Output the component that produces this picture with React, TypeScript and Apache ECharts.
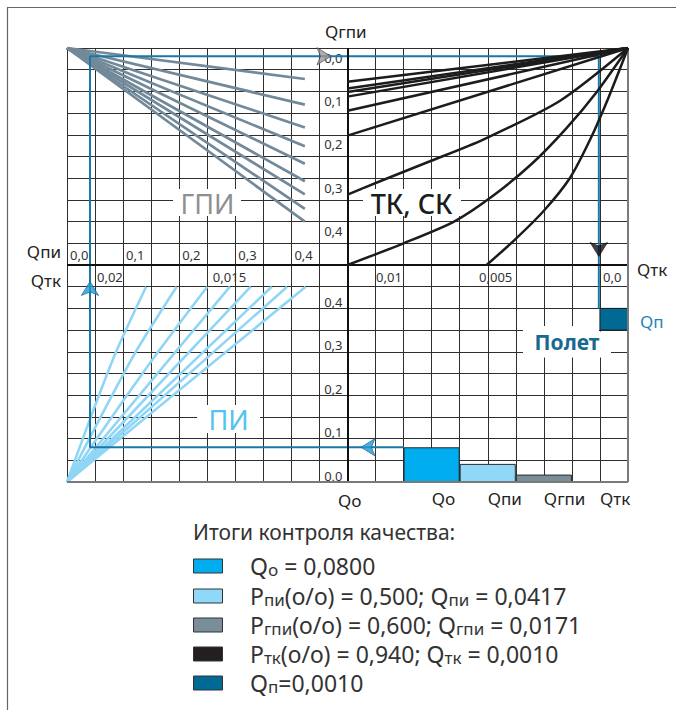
import React, { useEffect, useRef } from 'react';
import * as echarts from 'echarts';

const FONT = '"Noto Sans", "DejaVu Sans", sans-serif';

// ---------- data (nomogram cell coordinates: 20 x 20 cells, x to the right, y upward) ----------
const gpiOrigin: number[] = [0, 20];
const gpiEndX = 8.48;
const gpiEndY = [18.57, 17.39, 16.34, 15.47, 14.67, 13.86, 13.25, 12.59, 12.0];

const tkOrigin: number[] = [20, 20];
const tkStraightStartX = 10;
const tkStraightStartY = [18.45, 18.13, 17.97, 17.76, 17.11, 15.96];
const tkCurve1 = [[10, 13.24], [11.16, 13.86], [12.94, 14.78], [14.84, 15.78], [17.58, 17.57], [20, 20]];
const tkCurve2 = [[10, 10.0], [12.0, 11.0], [13.8, 12.0], [15.2, 13.2], [16.6, 14.7], [17.8, 16.3], [18.9, 18.0], [20, 20]];
const tkCurve3 = [[14.96, 10.0], [15.97, 11.17], [17.0, 12.5], [17.93, 14.01], [18.65, 15.78], [19.3, 17.7], [20, 20]];

const piCurves = [
  [[0, 0], [0.85, 3.0], [1.75, 6.0], [2.82, 9.0]],
  [[0, 0], [1.2, 3.0], [2.45, 6.0], [3.91, 9.0]],
  [[0, 0], [1.6, 3.0], [3.25, 6.0], [5.0, 9.0]],
  [[0, 0], [5.81, 9.0]],
  [[0, 0], [6.55, 9.0]],
  [[0, 0], [7.3, 9.0]],
  [[0, 0], [7.85, 9.0]],
  [[0, 0], [8.51, 9.0]],
];

const controlPath = [[12, 1.6], [0.82, 1.6], [0.82, 19.62], [18.96, 19.62], [18.96, 8]];
const arrowPos = [[0.82, 9.24], [9.41, 19.62], [18.96, 10.39], [10.48, 1.6]];
const arrowRot = [0, -90, 180, 90];
const qpBox = [[19, 8], [20, 7]];

const barCategories = ['', 'Qo', 'Qпи', 'Qгпи', 'Qтк'];
const barValues = [null, 0.08, 0.0417, 0.0171, 0.001];

// tick labels
const qpiTicks = ['0,0', '0,1', '0,2', '0,3', '0,4'];
const qgpiTicks = ['0,0', '0,1', '0,2', '0,3', '0,4'];
const qoTicks = ['0,0', '0,1', '0,2', '0,3', '0,4'];
const qtkTicks = ['0,02', '0,015', '0,01', '0,005', '0,0'];
const qtkTickPos = [1.07, 5.2, 11.02, 14.69, 19.11];

const legendTitle = 'Итоги контроля качества:';
const legendTexts = [
  '{t|Q}{s|o}{t| = 0,0800}',
  '{t|P}{s|пи}{t|(о/о) = 0,500; Q}{s|пи}{t| = 0,0417}',
  '{t|P}{s|гпи}{t|(о/о) = 0,600; Q}{s|гпи}{t| = 0,0171}',
  '{t|P}{s|тк}{t|(о/о) = 0,940; Q}{s|тк}{t| = 0,0010}',
  '{t|Q}{s|п}{t|=0,0010}',
];

// ---------- styles ----------
const C_GPI = '#72899a';
const C_TK = '#1c1c1c';
const C_PI = '#8fd6f6';
const C_PATH = '#1b78a6';
const barColors = ['#ffffff', '#00aeef', '#8fd8f7', '#7a8e9a', '#231f20'];
const legendColors = ['#00aeef', '#8fd8f7', '#7a8e9a', '#231f20', '#006a94'];
const arrowColors = ['#1e9ad6', '#9a9a9a', '#111111', '#1e9ad6'];
const arrowBorders = ['#1b5f85', '#444444', '#111111', '#1b5f85'];

const hiddenAxis = (gi: number) => ({ gridIndex: gi, type: 'value', show: false, min: 0, max: 1 });
const tickIdx = (v: number, step: number) => Math.round(v / step);

function txt(x: number, y: number, text: string, o: any = {}) {
  return {
    type: 'text',
    z: 100,
    x,
    y,
    silent: true,
    style: {
      text,
      fill: o.fill || '#222',
      font: `${o.weight || 'normal'} ${o.size || 16}px ${FONT}`,
      align: o.align || 'left',
      textAlign: o.align || 'left',
      verticalAlign: 'middle',
      textVerticalAlign: 'middle',
      rich: o.rich,
    },
  };
}
function box(x: number, y: number, w: number, h: number) {
  return { type: 'rect', z: 99, silent: true, shape: { x, y, width: w, height: h }, style: { fill: '#ffffff' } };
}

function buildOption() {
  const series: any[] = [];
  const lineBase = { type: 'line', xAxisIndex: 0, yAxisIndex: 0, symbol: 'none', silent: true };

  series.push({
    ...lineBase,
    data: [[10, 10]],
    lineStyle: { width: 0 },
    markLine: {
      silent: true,
      symbol: ['none', 'none'],
      label: { show: false },
      lineStyle: { color: '#111', width: 2, type: 'solid' },
      data: [
        { xAxis: 10 },
        { yAxis: 10 },
        { xAxis: 20, lineStyle: { color: '#7a7a7a', width: 2, type: 'solid' } },
        { yAxis: 0, lineStyle: { color: '#7a7a7a', width: 2, type: 'solid' } },
      ],
    },
    z: 2,
  });

  gpiEndY.forEach((y) =>
    series.push({ ...lineBase, data: [gpiOrigin, [gpiEndX, y]], lineStyle: { color: C_GPI, width: 2.7 }, z: 3 })
  );
  tkStraightStartY.forEach((y) =>
    series.push({ ...lineBase, data: [[tkStraightStartX, y], tkOrigin], lineStyle: { color: C_TK, width: 2.5 }, z: 5 })
  );
  [tkCurve1, tkCurve2, tkCurve3].forEach((c) =>
    series.push({ ...lineBase, data: c, smooth: 0.25, lineStyle: { color: C_TK, width: 2.5 }, z: 5 })
  );
  piCurves.forEach((c) =>
    series.push({
      ...lineBase, data: c, smooth: c.length > 2 ? 0.25 : false,
      lineStyle: { color: C_PI, width: 2.6 }, z: 3,
    })
  );

  series.push({
    ...lineBase,
    data: controlPath,
    lineStyle: { color: C_PATH, width: 2 },
    z: 4,
    markArea: {
      silent: true,
      itemStyle: { color: '#006a94', borderColor: '#1a1a1a', borderWidth: 1 },
      data: [[{ coord: qpBox[0] }, { coord: qpBox[1] }]],
    },
  });

  series.push({
    type: 'scatter',
    xAxisIndex: 0,
    yAxisIndex: 0,
    silent: true,
    symbol: 'arrow',
    symbolSize: [13, 14],
    z: 6,
    data: arrowPos.map((p, i) => ({
      value: p,
      symbolRotate: arrowRot[i],
      itemStyle: { color: arrowColors[i], borderColor: arrowBorders[i], borderWidth: 0.8 },
    })),
  });

  series.push({
    type: 'bar',
    xAxisIndex: 1,
    yAxisIndex: 1,
    silent: true,
    barWidth: '100%',
    z: 3,
    data: barValues.map((v, i) => ({
      value: v,
      itemStyle: { color: barColors[i], borderColor: '#2a2a2a', borderWidth: 1 },
    })),
  });

  const tickFont = { fontSize: 13, color: '#333', fontFamily: FONT };

  const graphic: any[] = [
    { type: 'line', z: 100, silent: true, shape: { x1: 7, y1: 7.5, x2: 676, y2: 7.5 }, style: { stroke: '#666', lineWidth: 1.2 } },
    { type: 'line', z: 100, silent: true, shape: { x1: 7.5, y1: 7, x2: 7.5, y2: 710 }, style: { stroke: '#666', lineWidth: 1.2 } },
    // axis titles
    txt(325, 31, 'Qгпи', { size: 17 }),
    txt(61, 251, 'Qпи', { size: 17, align: 'right' }),
    txt(61, 280, 'Qтк', { size: 17, align: 'right' }),
    txt(637, 269, 'Qтк', { size: 17 }),
    txt(640, 321, 'Qп', { size: 17, fill: '#1f84b8' }),
    txt(338, 500, 'Qo', { size: 17 }),
    // region labels
    box(173, 189, 68, 27),
    txt(207.5, 203, 'ГПИ', { size: 27, fill: '#8c9094', align: 'center' }),
    box(363, 189, 98, 27),
    txt(411.5, 203, 'ТК, СК', { size: 27, fill: '#1c1c1c', align: 'center', weight: 500 }),
    box(197, 405, 63, 28),
    txt(228.5, 419, 'ПИ', { size: 27, fill: '#55c3ee', align: 'center' }),
    box(523, 331.5, 88, 26),
    box(523, 326, 76, 6),
    txt(567, 342, 'Полет', { size: 21, fill: '#17698f', align: 'center', weight: 'bold' }),
    // legend
    txt(193, 532, legendTitle, { size: 21, fill: '#333' }),
  ];
  const rich = {
    t: { fontSize: 23, fontFamily: FONT, fill: '#333', lineHeight: 24 },
    s: { fontSize: 17, fontFamily: FONT, fill: '#333', lineHeight: 16, verticalAlign: 'bottom' },
  };
  const rowY = [566, 596, 625, 654, 683];
  legendTexts.forEach((t, i) => {
    graphic.push({
      type: 'rect', z: 100, silent: true,
      shape: { x: 193.5, y: rowY[i] - 7, width: 29, height: 14 },
      style: { fill: legendColors[i], stroke: '#333', lineWidth: 1 },
    });
    graphic.push(txt(250, rowY[i], t, { size: 23, fill: '#333', rich }));
  });

  return {
    animation: false,
    backgroundColor: '#ffffff',
    grid: [
      { left: 67, top: 48, width: 561, height: 434 },
      { left: 347.5, top: 265, width: 280.5, height: 217 },
      { left: 67, top: 48, width: 561, height: 217 },
      { left: 347.5, top: 48, width: 280.5, height: 217 },
      { left: 67, top: 265, width: 561, height: 217 },
    ],
    xAxis: [
      {
        gridIndex: 0, type: 'value', min: 0, max: 20, interval: 1,
        axisLine: { show: false }, axisTick: { show: false }, axisLabel: { show: false },
        splitLine: { show: true, lineStyle: { color: '#2e2e2e', width: 1 } },
      },
      {
        gridIndex: 1, type: 'category', data: barCategories,
        axisLine: { show: false }, axisTick: { show: false }, splitLine: { show: false },
        axisLabel: { interval: 0, align: 'left', margin: 8, fontSize: 17, color: '#222', fontFamily: FONT },
      },
      {
        gridIndex: 2, type: 'value', min: 0, max: 1, interval: 0.1, position: 'bottom',
        axisLine: { show: false }, axisTick: { show: false }, splitLine: { show: false },
        axisLabel: {
          ...tickFont, inside: true, align: 'left', verticalAlign: 'bottom', margin: 4, padding: [0, 0, 0, 3],
          showMinLabel: true, showMaxLabel: false,
          formatter: (v: number) => qpiTicks[tickIdx(v, 0.1)] ?? '',
        },
      },
      hiddenAxis(3),
      {
        gridIndex: 4, type: 'value', min: 0, max: 20, position: 'top',
        axisLine: { show: false }, axisTick: { show: false }, splitLine: { show: false },
        axisLabel: {
          ...tickFont, inside: true, align: 'left', verticalAlign: 'top', margin: 5,
          customValues: qtkTickPos,
          formatter: (v: number) => {
            const i = qtkTickPos.findIndex((p) => Math.abs(p - v) < 1e-6);
            return i >= 0 ? qtkTicks[i] : '';
          },
        },
      },
    ],
    yAxis: [
      {
        gridIndex: 0, type: 'value', min: 0, max: 20, interval: 1,
        axisLine: { show: false }, axisTick: { show: false }, axisLabel: { show: false },
        splitLine: { show: true, lineStyle: { color: '#2e2e2e', width: 1 } },
      },
      {
        gridIndex: 1, type: 'value', min: 0, max: 0.5, interval: 0.1, position: 'left',
        axisLine: { show: false }, axisTick: { show: false }, splitLine: { show: false },
        axisLabel: {
          ...tickFont, margin: 5, verticalAlign: 'bottom', showMaxLabel: false,
          formatter: (v: number) => qoTicks[tickIdx(v, 0.1)] ?? '',
        },
      },
      hiddenAxis(2),
      {
        gridIndex: 3, type: 'value', min: 0, max: 0.5, interval: 0.1, inverse: true, position: 'left',
        axisLine: { show: false }, axisTick: { show: false }, splitLine: { show: false },
        axisLabel: {
          ...tickFont, margin: 5, verticalAlign: 'top', padding: [3, 0, 0, 0], showMaxLabel: false,
          formatter: (v: number) => qgpiTicks[tickIdx(v, 0.1)] ?? '',
        },
      },
      hiddenAxis(4),
    ],
    series,
    graphic,
  };
}

export default function App() {
  const ref = useRef<HTMLDivElement>(null);
  useEffect(() => {
    const chart = echarts.init(ref.current!, undefined, { renderer: 'svg' });
    chart.setOption(buildOption() as any);
    return () => chart.dispose();
  }, []);
  return <div ref={ref} style={{ position: 'absolute', left: 0, top: 0, width: 676, height: 710 }} />;
}
